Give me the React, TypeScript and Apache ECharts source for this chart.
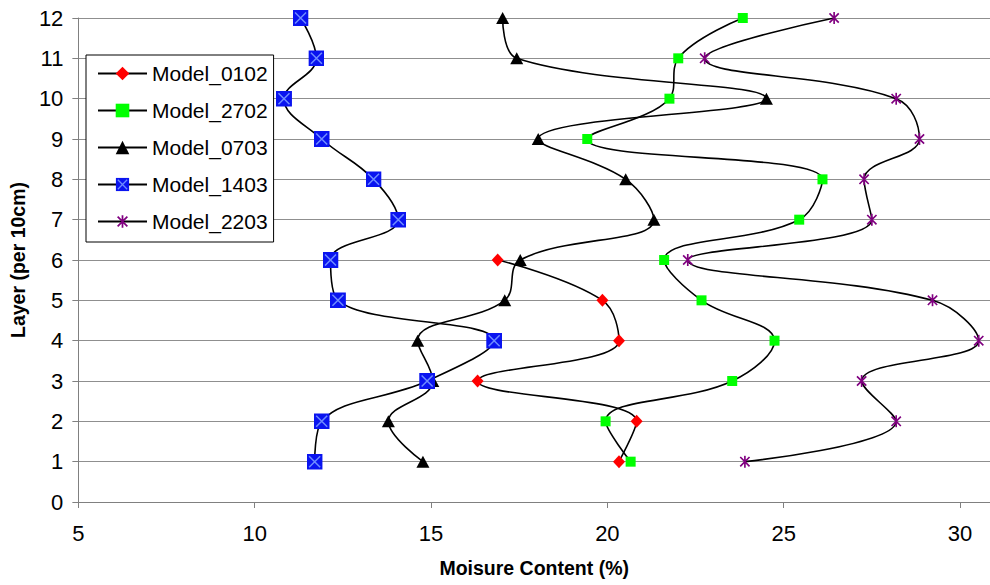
import React, { useEffect, useRef } from "react";
import * as echarts from "echarts";

const layers = [1, 2, 3, 4, 5, 6, 7, 8, 9, 10, 11, 12];
const model0102 = [20.33, 20.83, 16.32, 20.33, 19.86, 16.89];
const model2702 = [20.66, 19.95, 23.54, 24.74, 22.67, 21.61, 25.44, 26.1, 19.43, 21.76, 22.01, 23.84];
const model0703 = [14.77, 13.79, 15.05, 14.62, 17.09, 17.53, 21.32, 20.52, 18.04, 24.51, 17.43, 17.03];
const model1403 = [11.7, 11.9, 14.89, 16.79, 12.36, 12.15, 14.07, 13.37, 11.9, 10.83, 11.75, 11.3];
const model2203 = [23.9, 28.19, 27.21, 30.53, 29.22, 22.28, 27.5, 27.28, 28.85, 28.19, 22.76, 26.43];
const seriesNames = ["Model_0102", "Model_2702", "Model_0703", "Model_1403", "Model_2203"];
const xTicks = [5, 10, 15, 20, 25, 30];

const FONT = "'Liberation Sans', Arial, sans-serif";

const svgUri = (svg: string) => "image://data:image/svg+xml;charset=utf-8," + encodeURIComponent(svg);
const blueX = svgUri(
  "<svg xmlns='http://www.w3.org/2000/svg' width='16' height='16' viewBox='0 0 16 16'><rect width='16' height='16' fill='#0a14f0'/><path d='M2.5 2.5L13.5 13.5M13.5 2.5L2.5 13.5' stroke='#6f8cff' stroke-width='1.5' fill='none'/></svg>"
);
const purpleStar = svgUri(
  "<svg xmlns='http://www.w3.org/2000/svg' width='14' height='14' viewBox='0 0 14 14'><path d='M2 2L12 12M12 2L2 12M7 0.5V13.5' stroke='#800080' stroke-width='1.8' fill='none'/></svg>"
);

const pairs = (vals: number[]) => vals.map((v, i) => [v, layers[i]]);

export default function App() {
  const ref = useRef<HTMLDivElement>(null);
  useEffect(() => {
    if (!ref.current) return;
    const chart = echarts.init(ref.current, undefined, { renderer: "svg" });
    const lineStyle = { color: "#000", width: 1.6 };
    const smooth = 0.4;
    chart.setOption({
      animation: false,
      textStyle: { fontFamily: FONT },
      grid: { left: 77, right: 0, top: 18, bottom: 83, containLabel: false },
      legend: {
        orient: "vertical",
        left: 86,
        top: 55,
        backgroundColor: "#fff",
        borderColor: "#000",
        borderWidth: 1,
        padding: [8, 6, 10, 11],
        itemGap: 16,
        itemWidth: 49,
        itemHeight: 17,
        data: seriesNames,
        textStyle: { fontSize: 21, color: "#000", fontFamily: FONT },
      },
      xAxis: {
        type: "value",
        min: 5,
        max: 30.85,
        interval: 5,
        name: "Moisure Content (%)",
        nameLocation: "middle",
        nameGap: 56,
        nameTextStyle: { fontSize: 19.5, fontWeight: "bold", color: "#000", fontFamily: FONT },
        axisLine: { show: true, lineStyle: { color: "#808080", width: 1 } },
        axisTick: { show: true, length: 6, lineStyle: { color: "#808080" } },
        axisLabel: {
          fontSize: 22,
          color: "#000",
          margin: 20,
          fontFamily: FONT,
          showMaxLabel: false,
          formatter: (v: number) => (xTicks.includes(v) ? String(v) : ""),
        },
        splitLine: { show: false },
      },
      yAxis: {
        type: "value",
        min: 0,
        max: 12,
        interval: 1,
        name: "Layer (per 10cm)",
        nameLocation: "middle",
        nameGap: 48,
        nameTextStyle: { fontSize: 19.5, fontWeight: "bold", color: "#000", fontFamily: FONT },
        axisLine: { show: true, lineStyle: { color: "#808080", width: 1 } },
        axisTick: { show: true, length: 6, lineStyle: { color: "#808080" } },
        axisLabel: { fontSize: 22, color: "#000", margin: 15, fontFamily: FONT },
        splitLine: { show: true, lineStyle: { color: "#8f8f8f", width: 1 } },
      },
      series: [
        {
          name: "Model_0102",
          type: "line",
          smooth,
          data: pairs(model0102),
          symbol: "diamond",
          symbolSize: [12, 13],
          itemStyle: { color: "#ff0000" },
          lineStyle,
        },
        {
          name: "Model_2702",
          type: "line",
          smooth,
          data: pairs(model2702),
          symbol: "rect",
          symbolSize: 10,
          itemStyle: { color: "#00ff00" },
          lineStyle,
        },
        {
          name: "Model_0703",
          type: "line",
          smooth,
          data: pairs(model0703),
          symbol: "triangle",
          symbolSize: [13, 12],
          itemStyle: { color: "#000000" },
          lineStyle,
        },
        {
          name: "Model_1403",
          type: "line",
          smooth,
          data: pairs(model1403),
          symbol: blueX,
          symbolSize: 16,
          itemStyle: { color: "#0a14f0" },
          lineStyle,
        },
        {
          name: "Model_2203",
          type: "line",
          smooth,
          data: pairs(model2203),
          symbol: purpleStar,
          symbolSize: 13,
          itemStyle: { color: "#800080" },
          lineStyle,
        },
      ],
    });
    return () => chart.dispose();
  }, []);
  return (
    <div
      ref={ref}
      style={{ position: "fixed", left: 0, top: 0, width: 990, height: 585, background: "#fff" }}
    />
  );
}
